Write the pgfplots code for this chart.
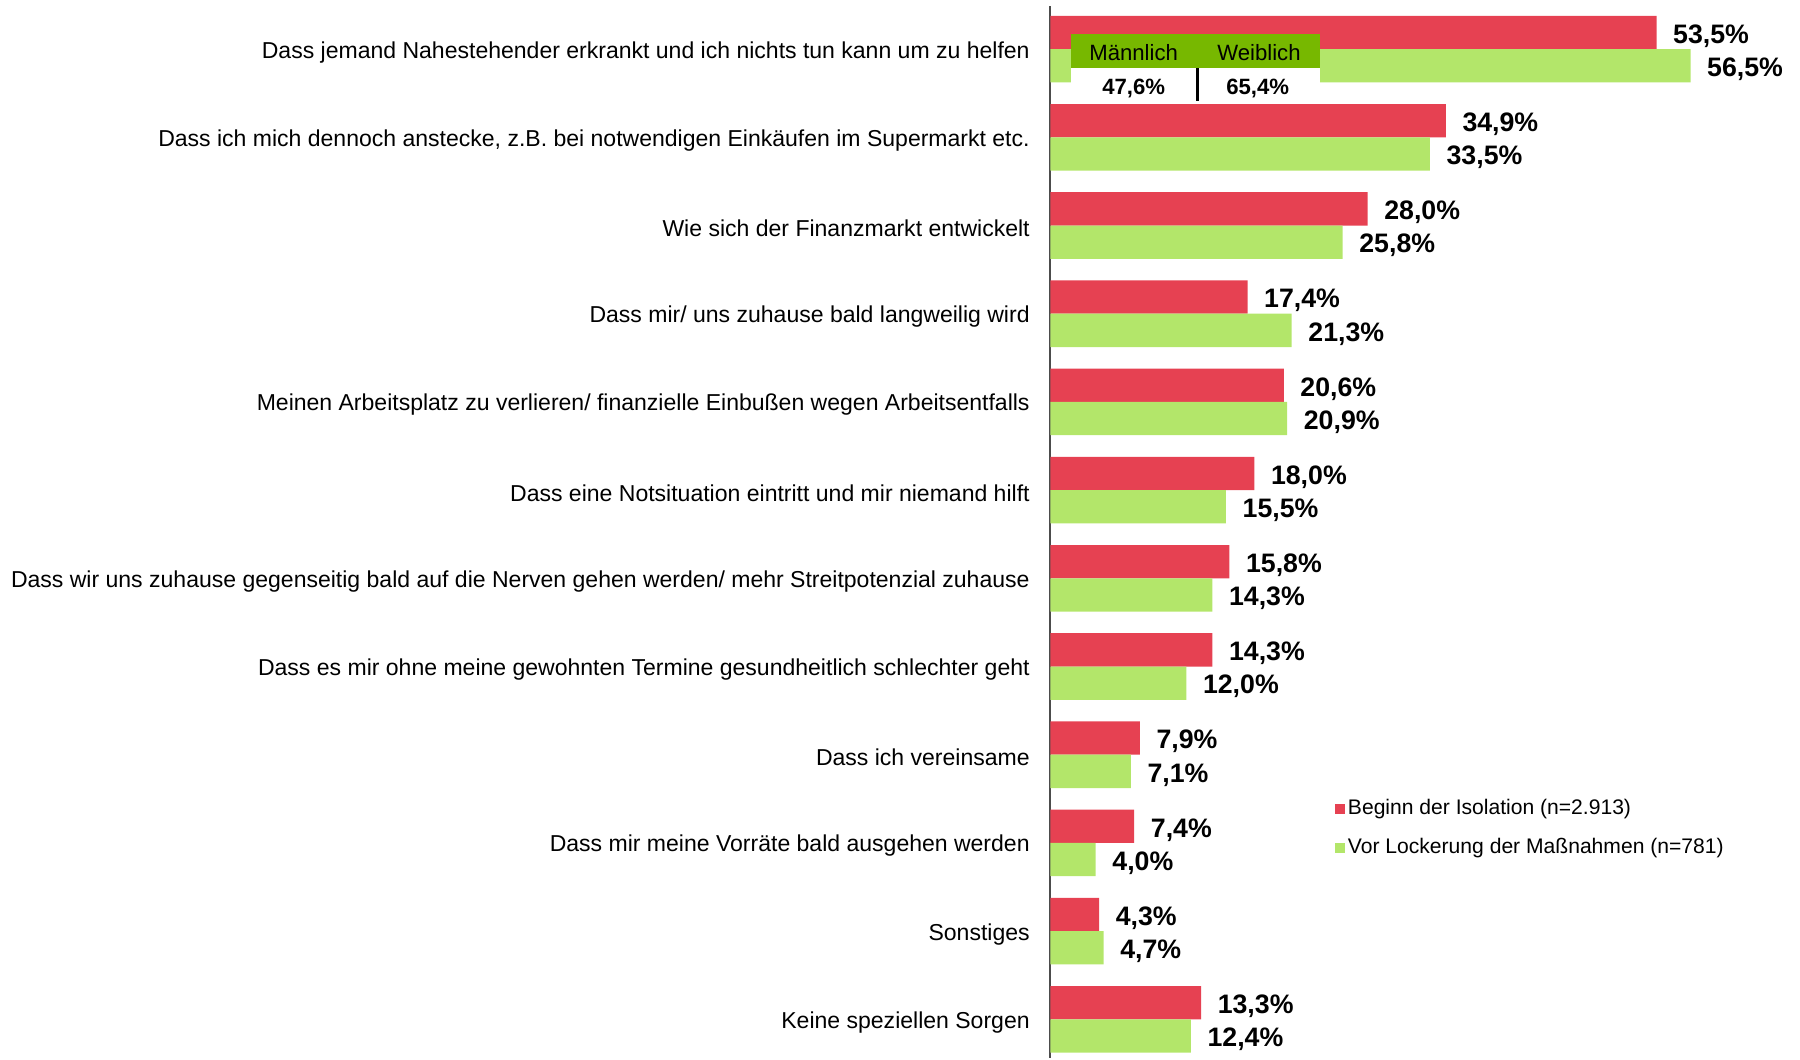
\documentclass[border=0pt]{standalone}
\usepackage{fontspec}
\setmainfont{Liberation Sans}
\usepackage{pgfplots}
\pgfplotsset{compat=1.18}
\usetikzlibrary{calc}
\definecolor{isored}{HTML}{E64152}
\definecolor{lockgreen}{HTML}{B3E66A}
\definecolor{headgreen}{HTML}{77B800}

\begin{document}
\begin{tikzpicture}
\begin{axis}[
  x=1.133mm, y=8.82mm,
  xmin=0, xmax=66.16, ymin=-0.438, ymax=11.49,
  xbar, bar width=3.33mm,
  axis x line=none, axis y line=left,
  y axis line style={-, draw=black!70, line width=0.6pt},
  ytick={0,...,11}, ytick style={draw=none}, major tick length=0pt,
  yticklabels={
    Keine speziellen Sorgen,
    Sonstiges,
    Dass mir meine Vorräte bald ausgehen werden,
    Dass ich vereinsame,
    Dass es mir ohne meine gewohnten Termine gesundheitlich schlechter geht,
    Dass wir uns zuhause gegenseitig bald auf die Nerven gehen werden/ mehr Streitpotenzial zuhause,
    Dass eine Notsituation eintritt und mir niemand hilft,
    Meinen Arbeitsplatz zu verlieren/ finanzielle Einbußen wegen Arbeitsentfalls,
    Dass mir/ uns zuhause bald langweilig wird,
    Wie sich der Finanzmarkt entwickelt,
    {Dass ich mich dennoch anstecke, z.B. bei notwendigen Einkäufen im Supermarkt etc.},
    Dass jemand Nahestehender erkrankt und ich nichts tun kann um zu helfen},
  yticklabel style={font=\fontsize{6.55}{8}\selectfont, anchor=east, inner sep=0pt, xshift=-2mm, yshift=-0.3mm},
  point meta=x,
  nodes near coords={\pgfmathprintnumber[fixed,fixed zerofill,precision=1,use comma,assume math mode=true]{\pgfplotspointmeta}\%},
  every node near coord/.append style={font=\bfseries\fontsize{7.6}{9}\selectfont, anchor=west, inner sep=0pt, xshift=1.6mm, yshift=-0.35mm},
  legend style={at={(axis cs:25.1,2.54)}, anchor=north west, draw=none, fill=none, inner sep=0pt,
    font=\fontsize{6.0}{7}\selectfont, row sep=1.29mm,
    nodes={inner sep=0.25mm, text height=1.6mm, text depth=0.5mm}},
  legend cell align=left,
  clip=false,
]
\addplot[fill=isored, draw=none, bar shift=1.665mm,
  legend image code/.code={\fill[isored] (0mm,-0.5mm) rectangle (1mm,0.5mm);}]
  coordinates {(53.5,11) (34.9,10) (28.0,9) (17.4,8) (20.6,7) (18.0,6)
               (15.8,5) (14.3,4) (7.9,3) (7.4,2) (4.3,1) (13.3,0)};
\addlegendentry{Beginn der Isolation (n=2.913)}
\addplot[fill=lockgreen, draw=none, bar shift=-1.665mm,
  legend image code/.code={\fill[lockgreen] (0mm,-0.5mm) rectangle (1mm,0.5mm);}]
  coordinates {(56.5,11) (33.5,10) (25.8,9) (21.3,8) (20.9,7) (15.5,6)
               (14.3,5) (12.0,4) (7.1,3) (4.0,2) (4.7,1) (12.4,0)};
\addlegendentry{Vor Lockerung der Maßnahmen (n=781)}

% inset box: share by gender
\fill[headgreen] (axis cs:1.82,11.171) rectangle (axis cs:23.79,10.786);
\fill[white] (axis cs:1.82,10.786) rectangle (axis cs:23.79,10.392);
\draw[black, line width=0.7pt] (axis cs:13.0,10.786) -- (axis cs:13.0,10.415);
\node[font=\fontsize{6.3}{8}\selectfont] at (axis cs:7.35,10.958) {Männlich};
\node[font=\fontsize{6.3}{8}\selectfont] at (axis cs:18.41,10.958) {Weiblich};
\node[font=\bfseries\fontsize{6.3}{8}\selectfont] at (axis cs:7.36,10.555) {47,6\%};
\node[font=\bfseries\fontsize{6.3}{8}\selectfont] at (axis cs:18.3,10.555) {65,4\%};

\coordinate (bl) at (axis cs:0,-0.438);
\end{axis}
\path ($(bl)+(-10.504cm,0)$) rectangle ($(bl)+(7.496cm,10.58cm)$);
\end{tikzpicture}
\end{document}
